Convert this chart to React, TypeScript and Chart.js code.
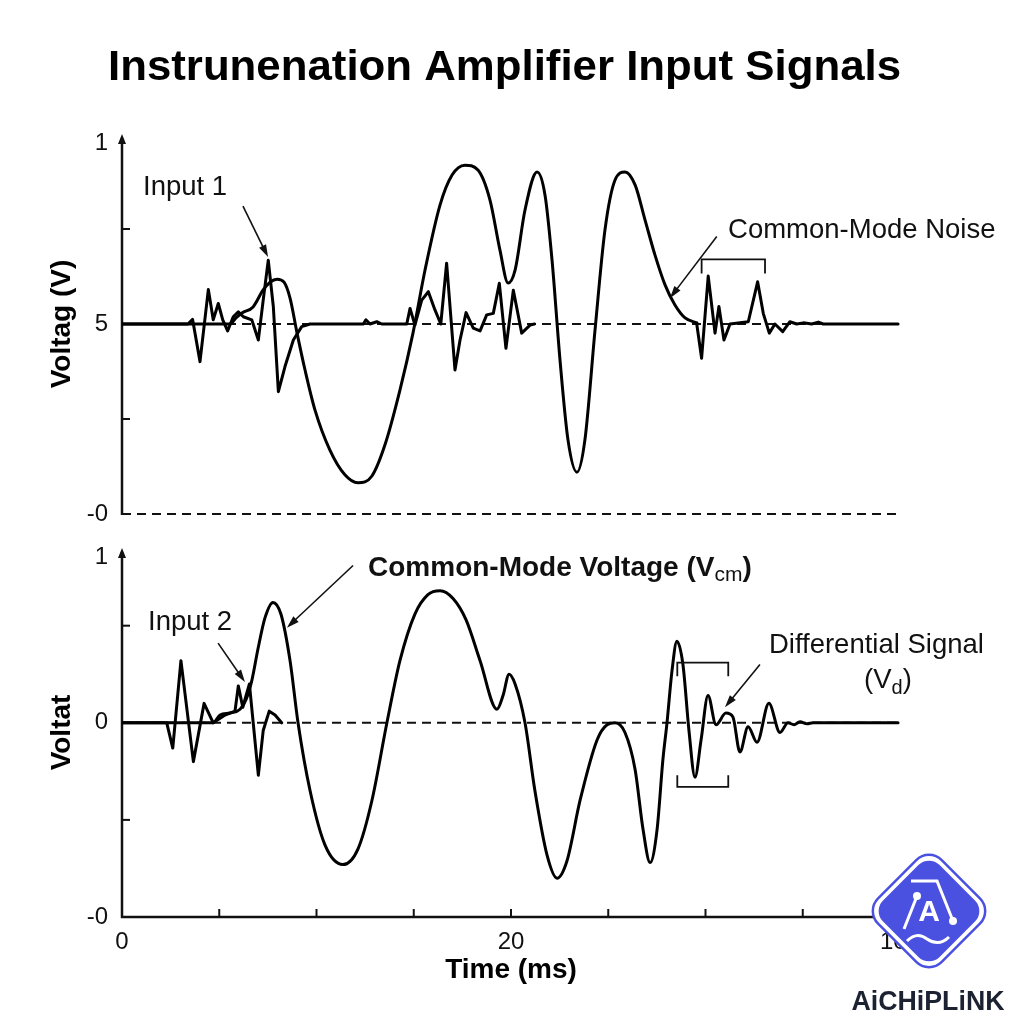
import React, { useEffect, useRef } from "react";
import { Chart, registerables } from "chart.js";

Chart.register(...registerables);

const FONT = "'Liberation Sans', Arial, Helvetica, sans-serif";

// ---------- text ----------
const chartTitle = "Instrunenation Amplifier Input Signals";
const xAxisTitle = "Time (ms)";
const topYAxisTitle = "Voltag (V)";
const bottomYAxisTitle = "Voltat";
const brandText = "AiCHiPLiNK";

// ---------- ticks ----------
const xTickValues = [0, 5, 10, 15, 20, 25, 30, 35, 40];
const xTickLabels = ["0", "", "", "", "20", "", "", "", "100"];
const xInnerTicks = [5, 10, 15, 20, 25, 30, 35];
const topYTickValues = [0, 2.5, 5, 7.5, 9.75];
const topYTickLabels = ["-0", "", "5", "", "1"];
const topYInnerTicks = [2.5, 7.5];
const bottomYTickValues = [-1, -0.5, 0, 0.5, 0.85];
const bottomYTickLabels = ["-0", "", "0", "", "1"];
const bottomYInnerTicks = [-0.5, 0.5];

const topBaselines = [5, 0];
const bottomBaselines = [0];

// ---------- top panel series ----------
const topCommonModeX = [0, 5.55, 5.86, 6.17, 6.74, 7.25, 7.61, 7.97, 8.33, 8.64, 9.0, 9.41, 9.92, 10.69, 11.46, 12.13, 12.85, 13.52, 14.29, 14.96, 15.58, 16.35, 16.97, 17.63, 18.3, 18.92, 19.43, 19.85, 20.21, 20.72, 21.34, 21.75, 22.11, 22.52, 22.93, 23.39, 23.8, 24.32, 24.83, 25.35, 25.86, 26.38, 26.89, 27.4, 27.92, 28.43, 28.95, 29.56];
const topCommonModeY = [5, 5, 5.16, 5.29, 5.45, 5.89, 6.1, 6.18, 6.1, 5.68, 4.76, 3.79, 2.74, 1.68, 1.03, 0.82, 1.0, 1.82, 3.26, 4.76, 6.42, 8.13, 8.92, 9.18, 9.05, 8.26, 6.95, 6.08, 6.42, 8.0, 9.0, 8.39, 6.68, 4.05, 1.95, 1.1, 1.95, 4.84, 7.47, 8.79, 9.0, 8.66, 7.74, 6.82, 6.03, 5.5, 5.16, 5.03];

const topInput1X = [0, 3.39, 3.63, 4.01, 4.44, 4.69, 4.95, 5.18, 5.43, 5.72, 5.98, 6.24, 6.67, 7.01, 7.26, 7.52, 7.78, 8.04, 8.38, 8.81, 9.24, 9.67, 12.41, 12.54, 12.75, 13.1, 13.35, 14.64, 14.81, 15.06, 15.41, 15.75, 16.09, 16.39, 16.69, 17.12, 17.38, 17.69, 18.06, 18.41, 18.75, 19.09, 19.4, 19.74, 20.12, 20.55, 20.98, 21.2, 25, 29.55, 29.8, 30.14, 30.49, 30.69, 30.95, 31.26, 32.2, 32.68, 32.97, 33.28, 33.57, 33.97, 34.34, 34.69, 35.03, 35.46, 35.8, 36.05, 39.9];
const topInput1Y = [5, 5, 5.12, 4.01, 5.91, 5.11, 5.54, 5.11, 4.82, 5.19, 5.32, 5.19, 5.11, 4.58, 5.63, 6.68, 5.46, 3.22, 3.88, 4.58, 4.93, 5.0, 5.0, 5.11, 5.0, 5.06, 5.0, 5.0, 5.41, 4.97, 5.63, 5.85, 5.37, 5.0, 6.6, 3.79, 4.58, 5.3, 4.89, 4.82, 5.24, 5.28, 6.07, 4.36, 5.89, 4.76, 4.97, 5.0, null, 5.0, 4.1, 6.26, 4.76, 5.46, 4.58, 5.0, 5.06, 6.11, 5.28, 4.76, 5.0, 4.8, 5.06, 5.0, 5.03, 5.0, 5.05, 5.0, 5.0];

// ---------- bottom panel series ----------
const bottomCommonModeX = [0, 4.68, 5.04, 5.55, 6.07, 6.38, 6.68, 6.99, 7.35, 7.76, 8.17, 8.64, 9.05, 9.67, 10.44, 11.36, 12.13, 12.85, 13.62, 14.29, 15.06, 15.73, 16.35, 17.02, 17.69, 18.41, 19.28, 19.59, 19.9, 20.21, 20.72, 21.23, 21.85, 22.37, 22.88, 23.55, 24.42, 24.94, 25.35, 25.86, 26.38, 26.79, 27.15, 27.51, 27.81, 28.02, 28.28, 28.53, 28.84, 29.15, 29.46, 29.77, 30.13, 30.54, 31.05, 31.41, 31.77, 32.19, 32.65, 33.26, 33.83, 34.24, 34.55, 34.86, 35.22, 35.53, 39.9];
const bottomCommonModeY = [0, 0, 0.04, 0.05, 0.07, 0.12, 0.22, 0.38, 0.54, 0.62, 0.56, 0.32, 0, -0.35, -0.63, -0.73, -0.65, -0.4, 0, 0.32, 0.56, 0.66, 0.68, 0.64, 0.53, 0.32, 0.07, 0.14, 0.25, 0.2, 0, -0.35, -0.68, -0.8, -0.71, -0.4, -0.09, -0.01, 0, -0.05, -0.24, -0.55, -0.72, -0.55, -0.19, 0, 0.27, 0.42, 0.3, -0.04, -0.28, -0.09, 0.14, -0.01, 0.05, 0.03, -0.15, -0.02, -0.1, 0.1, -0.05, 0, -0.01, 0.005, -0.005, 0, 0];

const bottomInput2X = [0, 2.3, 2.61, 3.03, 3.67, 4.22, 4.69, 5.3, 5.81, 5.98, 6.21, 6.55, 7.01, 7.26, 7.57, 7.87, 8.21];
const bottomInput2Y = [0, 0, -0.13, 0.32, -0.2, 0.1, 0, 0.04, 0.06, 0.19, 0.08, 0.2, -0.27, -0.04, 0.06, 0.04, 0];

// ---------- annotations (data coordinates) ----------
type Part = { t: string; sub?: boolean };
type Note = { parts: Part[]; x: number; y: number; bold?: boolean; align?: "left" | "center" };
type Arrow = { from: [number, number]; to: [number, number] };
type Bracket = { x1: number; x2: number; y: number; yEnd: number };

const topNotes: Note[] = [
  { parts: [{ t: "Input 1" }], x: 1.08, y: 8.66 },
  { parts: [{ t: "Common-Mode Noise" }], x: 31.16, y: 7.53 },
];
const topArrows: Arrow[] = [
  { from: [6.22, 8.1], to: [7.51, 6.76] },
  { from: [30.58, 7.3], to: [28.17, 5.68] },
];
const topBrackets: Bracket[] = [{ x1: 29.8, x2: 33.06, y: 6.7, yEnd: 6.33 }];

const bottomNotes: Note[] = [
  { parts: [{ t: "Common-Mode Voltage (V" }, { t: "cm", sub: true }, { t: ")" }], x: 12.65, y: 0.81, bold: true },
  { parts: [{ t: "Input 2" }], x: 1.34, y: 0.53 },
  { parts: [{ t: "Differential Signal" }], x: 33.26, y: 0.41 },
  { parts: [{ t: "(V" }, { t: "d", sub: true }, { t: ")" }], x: 39.38, y: 0.23, align: "center" },
];
const bottomArrows: Arrow[] = [
  { from: [11.88, 0.81], to: [8.48, 0.49] },
  { from: [4.94, 0.41], to: [6.32, 0.21] },
  { from: [32.8, 0.3], to: [31.0, 0.08] },
];
const bottomBrackets: Bracket[] = [
  { x1: 28.55, x2: 31.17, y: 0.31, yEnd: 0.24 },
  { x1: 28.55, x2: 31.17, y: -0.33, yEnd: -0.27 },
];

// ---------- helpers ----------
const pts = (xs: number[], ys: (number | null)[]) => xs.map((x, i) => ({ x, y: ys[i] }));

function drawArrow(ctx: CanvasRenderingContext2D, x1: number, y1: number, x2: number, y2: number) {
  const a = Math.atan2(y2 - y1, x2 - x1);
  const head = 13;
  const bx = x2 - head * 0.8 * Math.cos(a);
  const by = y2 - head * 0.8 * Math.sin(a);
  ctx.beginPath();
  ctx.moveTo(x1, y1);
  ctx.lineTo(bx, by);
  ctx.stroke();
  ctx.beginPath();
  ctx.moveTo(x2, y2);
  ctx.lineTo(x2 - head * Math.cos(a - 0.3), y2 - head * Math.sin(a - 0.3));
  ctx.lineTo(x2 - head * Math.cos(a + 0.3), y2 - head * Math.sin(a + 0.3));
  ctx.closePath();
  ctx.fill();
}

function drawRich(ctx: CanvasRenderingContext2D, parts: Part[], x: number, yc: number, size: number, bold: boolean, align: "left" | "center") {
  const subSize = Math.round(size * 0.74);
  const fontFor = (p: Part) => `${bold && !p.sub ? "bold " : ""}${p.sub ? subSize : size}px ${FONT}`;
  const widths = parts.map((p) => {
    ctx.font = fontFor(p);
    return ctx.measureText(p.t).width;
  });
  const total = widths.reduce((a, b) => a + b, 0);
  let cx = align === "center" ? x - total / 2 : x;
  const base = yc + size * 0.36;
  ctx.textAlign = "left";
  ctx.textBaseline = "alphabetic";
  parts.forEach((p, i) => {
    ctx.font = fontFor(p);
    ctx.fillText(p.t, cx, p.sub ? base + size * 0.2 : base);
    cx += widths[i];
  });
}

function drawNotes(chart: any, notes: Note[], arrows: Arrow[], brackets: Bracket[]) {
  const { ctx, scales } = chart;
  const X = (v: number) => scales.x.getPixelForValue(v);
  const Y = (v: number) => scales.y.getPixelForValue(v);
  ctx.save();
  ctx.fillStyle = "#111";
  ctx.strokeStyle = "#111";
  notes.forEach((n) => drawRich(ctx, n.parts, X(n.x), Y(n.y), n.bold ? 28 : 27.5, !!n.bold, n.align || "left"));
  ctx.lineWidth = 1.6;
  arrows.forEach((a) => drawArrow(ctx, X(a.from[0]), Y(a.from[1]), X(a.to[0]), Y(a.to[1])));
  ctx.lineWidth = 1.8;
  brackets.forEach((b) => {
    ctx.beginPath();
    ctx.moveTo(X(b.x1), Y(b.yEnd));
    ctx.lineTo(X(b.x1), Y(b.y));
    ctx.lineTo(X(b.x2), Y(b.y));
    ctx.lineTo(X(b.x2), Y(b.yEnd));
    ctx.stroke();
  });
  ctx.restore();
}

function drawFrame(chart: any, baselines: number[], yInner: number[], xInner: number[] | null, showXAxis: boolean) {
  const { ctx, scales, chartArea } = chart;
  const X = (v: number) => scales.x.getPixelForValue(v);
  const Y = (v: number) => scales.y.getPixelForValue(v);
  const x0 = X(0);
  const xEnd = X(39.9);
  const yBottom = chartArea.bottom;
  ctx.save();
  ctx.strokeStyle = "#111";
  ctx.fillStyle = "#111";
  ctx.lineWidth = 2;
  ctx.setLineDash([9, 6]);
  baselines.forEach((v) => {
    const py = Y(v);
    ctx.beginPath();
    ctx.moveTo(x0, py);
    ctx.lineTo(xEnd, py);
    ctx.stroke();
  });
  ctx.setLineDash([]);
  ctx.lineWidth = 2.5;
  ctx.beginPath();
  ctx.moveTo(x0, yBottom + 1);
  ctx.lineTo(x0, chartArea.top + 4);
  ctx.stroke();
  ctx.beginPath();
  ctx.moveTo(x0, chartArea.top);
  ctx.lineTo(x0 - 4, chartArea.top + 10);
  ctx.lineTo(x0 + 4, chartArea.top + 10);
  ctx.closePath();
  ctx.fill();
  ctx.lineWidth = 2;
  yInner.forEach((v) => {
    const py = Y(v);
    ctx.beginPath();
    ctx.moveTo(x0, py);
    ctx.lineTo(x0 + 8, py);
    ctx.stroke();
  });
  if (showXAxis) {
    ctx.lineWidth = 2.5;
    ctx.beginPath();
    ctx.moveTo(x0 - 1, yBottom);
    ctx.lineTo(X(40) + 5, yBottom);
    ctx.stroke();
    ctx.lineWidth = 2;
    (xInner || []).forEach((v) => {
      const px = X(v);
      ctx.beginPath();
      ctx.moveTo(px, yBottom);
      ctx.lineTo(px, yBottom - 8);
      ctx.stroke();
    });
  }
  ctx.restore();
}

function drawLogo(ctx: CanvasRenderingContext2D, cx: number, cy: number) {
  ctx.save();
  const g = ctx.createLinearGradient(cx - 30, cy - 60, cx + 20, cy + 60);
  g.addColorStop(0, "#4a50e0");
  g.addColorStop(0.55, "#2f8ee6");
  g.addColorStop(1, "#20d2df");
  ctx.translate(cx, cy);
  ctx.rotate(Math.PI / 4);
  const rr = (s: number, r: number) => {
    ctx.beginPath();
    ctx.moveTo(-s / 2 + r, -s / 2);
    ctx.arcTo(s / 2, -s / 2, s / 2, s / 2, r);
    ctx.arcTo(s / 2, s / 2, -s / 2, s / 2, r);
    ctx.arcTo(-s / 2, s / 2, -s / 2, -s / 2, r);
    ctx.arcTo(-s / 2, -s / 2, s / 2, -s / 2, r);
    ctx.closePath();
  };
  ctx.fillStyle = "#ffffff";
  rr(90, 18);
  ctx.fill();
  ctx.strokeStyle = g;
  ctx.lineWidth = 2.5;
  rr(90, 18);
  ctx.stroke();
  ctx.fillStyle = g;
  rr(80, 15);
  ctx.fill();
  ctx.restore();
  ctx.save();
  ctx.strokeStyle = "#ffffff";
  ctx.fillStyle = "#ffffff";
  ctx.lineWidth = 3;
  ctx.beginPath();
  ctx.moveTo(cx - 12, cy - 15);
  ctx.lineTo(cx - 25, cy + 18);
  ctx.stroke();
  ctx.beginPath();
  ctx.moveTo(cx - 18, cy - 30);
  ctx.lineTo(cx + 8, cy - 30);
  ctx.lineTo(cx + 24, cy + 10);
  ctx.stroke();
  ctx.beginPath();
  ctx.arc(cx - 12, cy - 15, 4, 0, Math.PI * 2);
  ctx.fill();
  ctx.beginPath();
  ctx.arc(cx + 24, cy + 10, 4, 0, Math.PI * 2);
  ctx.fill();
  ctx.beginPath();
  ctx.moveTo(cx - 22, cy + 30);
  ctx.quadraticCurveTo(cx - 12, cy + 20, cx - 2, cy + 28);
  ctx.quadraticCurveTo(cx + 10, cy + 36, cx + 20, cy + 26);
  ctx.stroke();
  ctx.font = `bold 30px ${FONT}`;
  ctx.textAlign = "center";
  ctx.textBaseline = "middle";
  ctx.fillText("A", cx, cy + 2);
  ctx.restore();
}

const lineStyle = {
  borderColor: "#000",
  borderWidth: 3,
  pointRadius: 0,
  fill: false,
  spanGaps: false,
  borderJoinStyle: "round" as const,
  borderCapStyle: "round" as const,
};

function yScale(min: number, max: number, values: number[], labels: string[], title: string) {
  return {
    type: "linear" as const,
    min,
    max,
    afterBuildTicks: (s: any) => {
      s.ticks = values.map((v) => ({ value: v }));
    },
    afterFit: (s: any) => {
      s.width = 122;
      s.paddingTop = 0;
      s.paddingBottom = 0;
    },
    grid: { display: false, drawTicks: false },
    border: { display: false },
    ticks: {
      autoSkip: false,
      padding: 14,
      color: "#111",
      font: { family: FONT, size: 24 },
      callback: (_v: any, i: number) => labels[i],
    },
    title: {
      display: true,
      text: title,
      color: "#000",
      font: { family: FONT, size: 28, weight: "bold" as const },
      padding: { top: 45, bottom: 0 },
    },
  };
}

export default function App() {
  const topRef = useRef<HTMLCanvasElement>(null);
  const botRef = useRef<HTMLCanvasElement>(null);

  useEffect(() => {
    const topChart = new Chart(topRef.current!, {
      type: "line",
      data: {
        datasets: [
          { ...lineStyle, data: pts(topCommonModeX, topCommonModeY), cubicInterpolationMode: "monotone" },
          { ...lineStyle, data: pts(topInput1X, topInput1Y), tension: 0 },
        ],
      },
      options: {
        responsive: false,
        animation: false,
        devicePixelRatio: 1,
        events: [],
        layout: { padding: { left: 0, right: 124, top: 134, bottom: 16 } },
        plugins: { legend: { display: false }, tooltip: { enabled: false } },
        scales: {
          x: { type: "linear", min: 0, max: 40, display: false },
          y: yScale(0, 10, topYTickValues, topYTickLabels, topYAxisTitle),
        },
      },
      plugins: [
        {
          id: "topDecor",
          beforeDatasetsDraw: (chart: any) => drawFrame(chart, topBaselines, topYInnerTicks, null, false),
          afterDatasetsDraw: (chart: any) => drawNotes(chart, topNotes, topArrows, topBrackets),
          afterDraw: (chart: any) => {
            const ctx = chart.ctx as CanvasRenderingContext2D;
            ctx.save();
            ctx.font = `bold 43px ${FONT}`;
            const w = ctx.measureText(chartTitle).width;
            ctx.translate(504.5, 79.5);
            ctx.scale(793 / w, 1);
            ctx.fillStyle = "#000";
            ctx.textAlign = "center";
            ctx.textBaseline = "alphabetic";
            ctx.fillText(chartTitle, 0, 0);
            ctx.restore();
          },
        },
      ],
    } as any);

    const bottomChart = new Chart(botRef.current!, {
      type: "line",
      data: {
        datasets: [
          { ...lineStyle, data: pts(bottomCommonModeX, bottomCommonModeY), cubicInterpolationMode: "monotone" },
          { ...lineStyle, data: pts(bottomInput2X, bottomInput2Y), tension: 0 },
        ],
      },
      options: {
        responsive: false,
        animation: false,
        devicePixelRatio: 1,
        events: [],
        layout: { padding: { left: 0, right: 124, top: 18, bottom: 0 } },
        plugins: { legend: { display: false }, tooltip: { enabled: false } },
        scales: {
          x: {
            type: "linear",
            min: 0,
            max: 40,
            afterBuildTicks: (s: any) => {
              s.ticks = xTickValues.map((v) => ({ value: v }));
            },
            afterFit: (s: any) => {
              s.height = 107;
              s.paddingLeft = 0;
              s.paddingRight = 0;
            },
            grid: { display: false, drawTicks: false },
            border: { display: false },
            ticks: {
              autoSkip: false,
              maxRotation: 0,
              padding: 11,
              color: "#111",
              font: { family: FONT, size: 24 },
              callback: (_v: any, i: number) => xTickLabels[i],
            },
            title: {
              display: true,
              text: xAxisTitle,
              color: "#000",
              font: { family: FONT, size: 28, weight: "bold" },
              padding: { top: 0, bottom: 37 },
            },
          },
          y: yScale(-1, 0.9, bottomYTickValues, bottomYTickLabels, bottomYAxisTitle),
        },
      },
      plugins: [
        {
          id: "bottomDecor",
          beforeDatasetsDraw: (chart: any) => drawFrame(chart, bottomBaselines, bottomYInnerTicks, xInnerTicks, true),
          afterDatasetsDraw: (chart: any) => drawNotes(chart, bottomNotes, bottomArrows, bottomBrackets),
          afterDraw: (chart: any) => {
            const ctx = chart.ctx as CanvasRenderingContext2D;
            drawLogo(ctx, 929, 381);
            ctx.save();
            ctx.font = `bold 27px ${FONT}`;
            const w = ctx.measureText(brandText).width;
            ctx.translate(928, 480);
            ctx.scale(153 / w, 1);
            ctx.fillStyle = "#1d2233";
            ctx.textAlign = "center";
            ctx.textBaseline = "alphabetic";
            ctx.fillText(brandText, 0, 0);
            ctx.restore();
          },
        },
      ],
    } as any);

    return () => {
      topChart.destroy();
      bottomChart.destroy();
    };
  }, []);

  return (
    <div style={{ position: "absolute", left: 0, top: 0, width: 1024, height: 1024, background: "#fff" }}>
      <canvas
        ref={topRef}
        width={1024}
        height={530}
        style={{ position: "absolute", left: 0, top: 0, width: 1024, height: 530 }}
      />
      <canvas
        ref={botRef}
        width={1024}
        height={494}
        style={{ position: "absolute", left: 0, top: 530, width: 1024, height: 494 }}
      />
    </div>
  );
}
